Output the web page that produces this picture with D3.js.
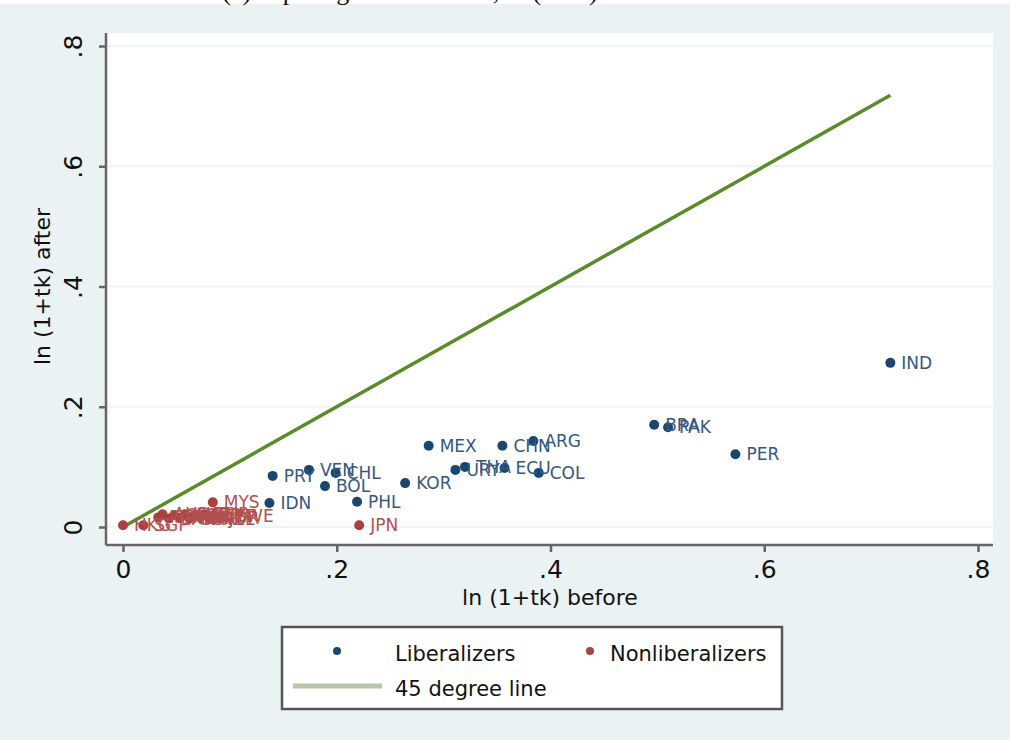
<!DOCTYPE html>
<html>
<head>
<meta charset="utf-8">
<script src="https://cdn.jsdelivr.net/npm/d3@7"></script>
<style>
  body { margin: 0; background: #eaf2f3; }
  svg { display: block; font-family: "DejaVu Sans", sans-serif; }
</style>
</head>
<body>
<div id="chart"></div>
<script>
// liberalizers (blue)
var libCodes  = ["IND", "PER", "BRA", "PAK", "ARG", "CHN", "MEX", "COL", "ECU", "THA", "URY", "KOR", "PRY", "VEN", "CHL", "BOL", "PHL", "IDN"];
var libBefore = [0.718, 0.573, 0.497, 0.510, 0.384, 0.355, 0.286, 0.389, 0.357, 0.320, 0.311, 0.264, 0.140, 0.174, 0.199, 0.189, 0.219, 0.137];
var libAfter  = [0.273, 0.121, 0.170, 0.166, 0.143, 0.135, 0.135, 0.090, 0.098, 0.100, 0.095, 0.073, 0.085, 0.095, 0.090, 0.068, 0.042, 0.040];

// nonliberalizers (red)
var nonCodes  = ["HKG", "SGP", "JPN", "MYS", "ISR", "AUS", "CAN", "CHE", "NOR", "SWE", "USA", "GBR", "ZAF", "TUR", "NZL", "ESP", "JOR", "ZWE"];
var nonBefore = [0.000, 0.019, 0.221, 0.084, 0.033, 0.037, 0.043, 0.048, 0.053, 0.058, 0.062, 0.067, 0.072, 0.076, 0.081, 0.085, 0.089, 0.094];
var nonAfter  = [0.003, 0.003, 0.003, 0.041, 0.016, 0.021, 0.014, 0.020, 0.015, 0.021, 0.014, 0.020, 0.016, 0.021, 0.014, 0.019, 0.015, 0.019];

// 45 degree line end points
var lineX = [0, 0.718];

var xTicks = [0, 0.2, 0.4, 0.6, 0.8];
var yTicks = [0, 0.2, 0.4, 0.6, 0.8];
var tickLabels = ["0", ".2", ".4", ".6", ".8"];

var legendLabels = ["Liberalizers", "Nonliberalizers", "45 degree line"];

////////////
// COLORS //
////////////
var BG = "#eaf2f3";
var GRID = "#eef3f5";
var AXIS = "#666666";
var BLUE = "#1a476f";
var BLUE_TXT = "#34577f";
var RED = "#a8413f";
var RED_TXT = "#b25050";
var GREEN = "#5a8a2a";
var GREEN_LEGEND = "#b7c6a6";

var W = 1010, H = 740;
var plot = {left: 106, right: 993, top: 33, bottom: 545};

var svg = d3.select("#chart").append("svg")
	.attr("width", W)
	.attr("height", H);

svg.append("rect").attr("width", W).attr("height", H).attr("fill", BG);

// cut-off title strip at the very top
svg.append("rect").attr("width", W).attr("height", 4).attr("fill", "#ffffff");
svg.append("text")
	.attr("x", 410).attr("y", 0)
	.attr("text-anchor", "middle")
	.attr("font-family", "'Liberation Serif', serif")
	.attr("font-size", 26)
	.attr("fill", "#111")
	.text("(c) Tapering liberalization, ln (1+tk)");

var x = d3.scaleLinear().domain([0, 0.8]).range([123, 978]);
var y = d3.scaleLinear().domain([0, 0.8]).range([527, 46]);

svg.append("rect")
	.attr("x", plot.left).attr("y", plot.top)
	.attr("width", plot.right - plot.left)
	.attr("height", plot.bottom - plot.top)
	.attr("fill", "#ffffff");

// gridlines
svg.append("g").selectAll("line")
	.data(yTicks)
	.join("line")
	.attr("x1", plot.left).attr("x2", plot.right)
	.attr("y1", function(d) { return y(d); })
	.attr("y2", function(d) { return y(d); })
	.attr("stroke", GRID)
	.attr("stroke-width", 2);

// x axis
var xAxis = svg.append("g")
	.attr("transform", "translate(0," + plot.bottom + ")")
	.call(d3.axisBottom(x).tickValues(xTicks).tickSize(7).tickPadding(8)
		.tickFormat(function(d, i) { return tickLabels[i]; }));
xAxis.select(".domain").attr("d", "M" + plot.left + ",0H" + plot.right)
	.attr("stroke", AXIS).attr("stroke-width", 2.5);
xAxis.selectAll(".tick line").attr("stroke", AXIS).attr("stroke-width", 2.5);
xAxis.selectAll(".tick text")
	.attr("font-family", "'DejaVu Sans', sans-serif")
	.attr("font-size", 25).attr("fill", "#111");

// y axis
var yAxis = svg.append("g")
	.attr("transform", "translate(" + plot.left + ",0)")
	.call(d3.axisLeft(y).tickValues(yTicks).tickSize(7).tickPadding(0)
		.tickFormat(function(d, i) { return tickLabels[i]; }));
yAxis.select(".domain").attr("d", "M0," + plot.top + "V" + plot.bottom)
	.attr("stroke", AXIS).attr("stroke-width", 2.5);
yAxis.selectAll(".tick line").attr("stroke", AXIS).attr("stroke-width", 2.5);
yAxis.selectAll(".tick text")
	.attr("font-family", "'DejaVu Sans', sans-serif")
	.attr("font-size", 25).attr("fill", "#111")
	.attr("x", null).attr("dy", null)
	.attr("text-anchor", "middle")
	.attr("transform", "translate(-31,0) rotate(-90)")
	.attr("y", 0)
	.attr("dominant-baseline", "middle");

// axis titles
svg.append("text")
	.attr("x", 550).attr("y", 605)
	.attr("text-anchor", "middle")
	.attr("font-size", 22).attr("fill", "#111")
	.text("ln (1+tk) before");
svg.append("text")
	.attr("transform", "translate(50," + y(0.4) + ") rotate(-90)")
	.attr("text-anchor", "middle")
	.attr("font-size", 22).attr("fill", "#111")
	.text("ln (1+tk) after");

// 45 degree line
svg.append("line")
	.attr("x1", x(lineX[0])).attr("y1", y(lineX[0]))
	.attr("x2", x(lineX[1])).attr("y2", y(lineX[1]))
	.attr("stroke", GREEN)
	.attr("stroke-width", 3.5);

var drawGroup = function(codes, xs, ys, dotColor, txtColor) {
	var g = svg.append("g");
	var pts = codes.map(function(c, i) { return {code: c, x: xs[i], y: ys[i]}; });
	g.selectAll("circle").data(pts).join("circle")
		.attr("cx", function(d) { return x(d.x); })
		.attr("cy", function(d) { return y(d.y); })
		.attr("r", 5)
		.attr("fill", dotColor);
	g.selectAll("text").data(pts).join("text")
		.attr("x", function(d) { return x(d.x) + 11; })
		.attr("y", function(d) { return y(d.y) + 6; })
		.attr("font-size", 17)
		.attr("fill", txtColor)
		.text(function(d) { return d.code; });
};
drawGroup(nonCodes, nonBefore, nonAfter, RED, RED_TXT);
drawGroup(libCodes, libBefore, libAfter, BLUE, BLUE_TXT);

// legend
var lg = svg.append("g");
lg.append("rect")
	.attr("x", 282).attr("y", 627)
	.attr("width", 500).attr("height", 82)
	.attr("fill", "#ffffff")
	.attr("stroke", "#555")
	.attr("stroke-width", 2.5);
lg.append("circle").attr("cx", 337).attr("cy", 651).attr("r", 4).attr("fill", BLUE);
lg.append("text").attr("x", 395).attr("y", 661).attr("font-size", 21).attr("fill", "#111").text(legendLabels[0]);
lg.append("circle").attr("cx", 590).attr("cy", 651).attr("r", 4).attr("fill", RED);
lg.append("text").attr("x", 610).attr("y", 661).attr("font-size", 21).attr("fill", "#111").text(legendLabels[1]);
lg.append("line")
	.attr("x1", 293).attr("x2", 382).attr("y1", 686).attr("y2", 686)
	.attr("stroke", GREEN_LEGEND).attr("stroke-width", 5);
lg.append("text").attr("x", 395).attr("y", 696).attr("font-size", 21).attr("fill", "#111").text(legendLabels[2]);
</script>
</body>
</html>
